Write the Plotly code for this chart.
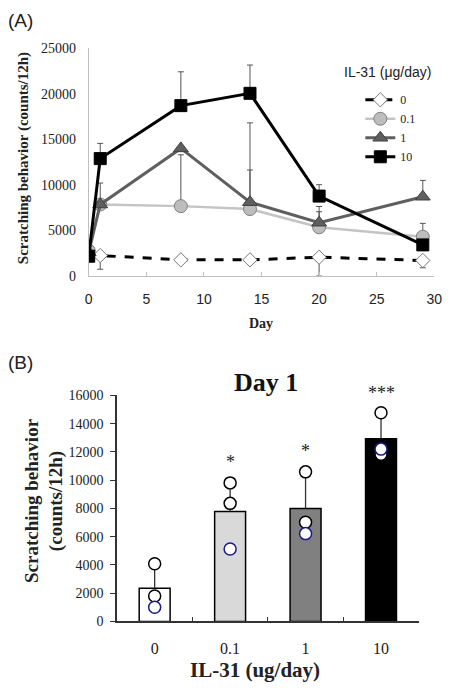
import plotly.graph_objects as go

# ---------- Panel A data ----------
days = [0, 1, 8, 14, 20, 29]
s0 = [2300, 2250, 1780, 1780, 2070, 1710]
s0_err_minus = [0, 1500, 0, 0, 2070, 800]
s01 = [2800, 7850, 7670, 7350, 5350, 4320]
s01_err = [0, 0, 5630, 4280, 1710, 1460]
s1 = [2600, 7850, 14000, 8100, 5850, 8700]
s1_err = [0, 2350, 0, 8700, 1780, 1790]
s10 = [2180, 12880, 18690, 20040, 8770, 3420]
s10_err = [0, 1670, 3710, 3100, 1250, 0]
series_names = ["0", "0.1", "1", "10"]

# ---------- Panel B data ----------
doses = ["0", "0.1", "1", "10"]
bar_means = [2350, 7780, 7990, 12940]
bar_err = [1350, 1540, 2600, 1560]
bar_colors = ["#ffffff", "#d9d9d9", "#808080", "#000000"]
dots_black_x = ["0", "0", "0.1", "0.1", "1", "1", "10", "10"]
dots_black_y = [4080, 1800, 9810, 8360, 10590, 7020, 14780, 11830]
dots_blue_x = ["0", "0.1", "1", "10"]
dots_blue_y = [1010, 5130, 6220, 12200]
star_labels = ["", "*", "*", "***"]
star_y = [0, 11300, 12060, 16180]
B_YMAX = 16000

SERIF = "Liberation Serif, Times New Roman, serif"
SANS = "Liberation Sans, Arial, sans-serif"

fig = go.Figure()

eb = dict(color="#555555", thickness=1, width=3)

fig.add_trace(go.Scatter(
    x=days, y=s0, name=series_names[0], mode="lines+markers",
    line=dict(color="black", width=3, dash="dash"),
    marker=dict(symbol="diamond", size=11, color="white", line=dict(color="#777777", width=1)),
    error_y=dict(type="data", symmetric=False, array=[0]*len(days), arrayminus=s0_err_minus, **eb),
    xaxis="x", yaxis="y"))
fig.add_trace(go.Scatter(
    x=days, y=s01, name=series_names[1], mode="lines+markers",
    line=dict(color="#c4c4c4", width=2.5),
    marker=dict(symbol="circle", size=13, color="#bdbdbd", line=dict(color="#808080", width=1)),
    error_y=dict(type="data", symmetric=False, array=s01_err, arrayminus=[0]*len(days), **eb),
    xaxis="x", yaxis="y"))
fig.add_trace(go.Scatter(
    x=days, y=s1, name=series_names[2], mode="lines+markers",
    line=dict(color="#5f5f5f", width=3),
    marker=dict(symbol="triangle-up", size=13, color="#5f5f5f", line=dict(color="#404040", width=1)),
    error_y=dict(type="data", symmetric=False, array=s1_err, arrayminus=[0]*len(days), **eb),
    xaxis="x", yaxis="y"))
fig.add_trace(go.Scatter(
    x=days, y=s10, name=series_names[3], mode="lines+markers",
    line=dict(color="black", width=3),
    marker=dict(symbol="square", size=12, color="black", line=dict(color="black", width=1)),
    error_y=dict(type="data", symmetric=False, array=s10_err, arrayminus=[0]*len(days), **eb),
    xaxis="x", yaxis="y"))

# ---------- Panel B traces ----------
fig.add_trace(go.Bar(
    x=doses, y=bar_means, width=0.41,
    marker=dict(color=bar_colors, line=dict(color="black", width=1.5)),
    error_y=dict(type="data", symmetric=False, array=bar_err, arrayminus=[0]*4,
                 color="#333333", thickness=1.3, width=0),
    showlegend=False, xaxis="x2", yaxis="y2"))
fig.add_trace(go.Scatter(
    x=dots_black_x, y=dots_black_y, mode="markers",
    marker=dict(symbol="circle", size=12, color="white", line=dict(color="black", width=1.5)),
    showlegend=False, xaxis="x2", yaxis="y2"))
fig.add_trace(go.Scatter(
    x=dots_blue_x, y=dots_blue_y, mode="markers",
    marker=dict(symbol="circle", size=12, color="white", line=dict(color="#1a1a8c", width=1.5)),
    showlegend=False, xaxis="x2", yaxis="y2"))

W, H = 454, 696

fig.update_layout(
    width=W, height=H, autosize=False,
    margin=dict(l=0, r=0, t=0, b=0),
    paper_bgcolor="white", plot_bgcolor="white",
    showlegend=True,
    legend=dict(x=366 / W, y=1 - 80 / H, xanchor="left", yanchor="top",
                font=dict(family=SERIF, size=12, color="#222"),
                bgcolor="rgba(0,0,0,0)", itemwidth=30, tracegroupgap=0),
    xaxis=dict(domain=[87 / W, 442 / W], range=[0, 30], anchor="y",
               tickvals=[0, 5, 10, 15, 20, 25, 30], ticks="inside", ticklen=4,
               tickcolor="#bfbfbf", showline=True, linecolor="#bfbfbf", linewidth=1,
               showgrid=False, zeroline=False,
               tickfont=dict(family=SANS, size=14, color="#222"), ticklabelstandoff=10),
    yaxis=dict(domain=[1 - 275 / H, 1 - 42 / H], range=[0, 25000], anchor="x",
               tickvals=[0, 5000, 10000, 15000, 20000, 25000], tickformat="d", ticks="",
               showline=True, linecolor="#bfbfbf", linewidth=1,
               showgrid=False, zeroline=False,
               tickfont=dict(family=SERIF, size=14, color="#222"), ticklabelstandoff=9),
    xaxis2=dict(domain=[116 / W, 426 / W], type="category", range=[-0.5, 3.5], anchor="y2",
                categoryorder="array", categoryarray=doses,
                ticks="inside", tickson="boundaries", ticklen=5, tickcolor="#333",
                showline=True, linecolor="#333", linewidth=1.5, showgrid=False, zeroline=False,
                tickfont=dict(family=SERIF, size=16, color="#222"), ticklabelstandoff=12),
    yaxis2=dict(domain=[1 - 628 / H, 1 - 397 / H], range=[0, B_YMAX], anchor="x2",
                tickvals=list(range(0, 16001, 2000)), tickformat="d", ticks="outside", ticklen=5,
                tickcolor="#333",
                showline=True, linecolor="#333", linewidth=1.5, showgrid=False, zeroline=False,
                tickfont=dict(family=SERIF, size=14, color="#222"), ticklabelstandoff=4),
)

ann = [
    dict(text="(A)", x=2 / W, y=1 - 1 / H, xanchor="left", yanchor="top",
         font=dict(family=SANS, size=19, color="#222")),
    dict(text="(B)", x=2 / W, y=1 - 363 / H, xanchor="left", yanchor="middle",
         font=dict(family=SANS, size=19, color="#222")),
    dict(text="<b>Scratching behavior (counts/12h)</b>", x=20 / W, y=1 - 154 / H,
         xanchor="center", yanchor="middle", textangle=-90,
         font=dict(family=SERIF, size=15, color="#222")),
    dict(text="<b>Day</b>", x=264 / W, y=1 - 323 / H, xanchor="center", yanchor="middle",
         font=dict(family=SERIF, size=14, color="#222")),
    dict(text="IL-31 (μg/day)", x=394 / W, y=1 - 66 / H, xanchor="center", yanchor="middle",
         font=dict(family=SANS, size=14, color="#222")),
    dict(text="<b>Day 1</b>", x=269 / W, y=1 - 384 / H, xanchor="center", yanchor="middle",
         font=dict(family=SERIF, size=26, color="#111")),
    dict(text="<b>Scratching behavior<br>(counts/12h)</b>", x=41 / W, y=1 - 504 / H,
         xanchor="center", yanchor="middle", textangle=-90,
         font=dict(family=SERIF, size=19, color="#222")),
    dict(text="<b>IL-31 (ug/day)</b>", x=258 / W, y=1 - 678 / H, xanchor="center", yanchor="middle",
         font=dict(family=SERIF, size=21, color="#222")),
]
for a in ann:
    a.update(xref="paper", yref="paper", showarrow=False)

# significance stars: x at category index, y relative to panel-B axis domain
for i, (lab, yv) in enumerate(zip(star_labels, star_y)):
    if lab:
        ann.append(dict(text=lab, x=i, y=yv / B_YMAX, xref="x2", yref="y2 domain",
                        showarrow=False, xanchor="center", yanchor="middle",
                        font=dict(family=SERIF, size=18, color="#222")))

fig.update_layout(annotations=ann)

fig.write_html("out.html")
